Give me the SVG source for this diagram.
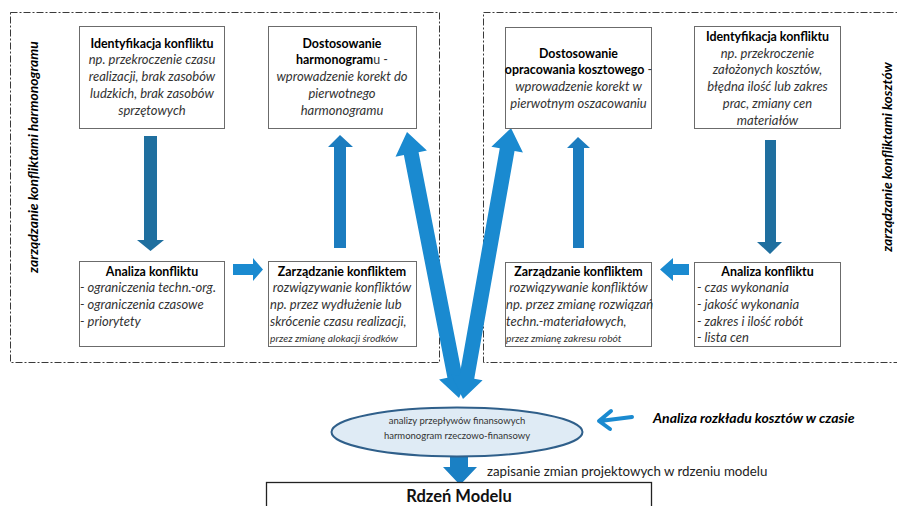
<svg xmlns="http://www.w3.org/2000/svg" width="897" height="506" viewBox="0 0 897 506">
<style>
text{font-family:Lato,"Liberation Sans",sans-serif;fill:#000}
.b{font-weight:bold;font-size:12.4px}
.i{font-style:italic;font-size:13px;fill:#333}
.r{font-size:12.4px;fill:#333}
.s{font-style:italic;font-size:10.3px;fill:#333}
.c{text-anchor:middle}
.box{fill:#fff;stroke:#6b6b6b;stroke-width:1}
.frame{fill:none;stroke:#3a3a3a;stroke-width:1;stroke-dasharray:7 2 2 2}
.lbl{font-weight:bold;font-style:italic;font-size:13.9px;text-anchor:middle}
.dn{fill:#1f6f9f}
.up{fill:#1b7cbf}
.hz{fill:#1a8ad0}
</style>
<g id="frames">
<rect class="frame" x="10.5" y="12.5" width="429" height="350"/>
<rect class="frame" x="483.5" y="12.5" width="430" height="350"/>
<text class="lbl" transform="translate(38,157) rotate(-90)">zarządzanie konfliktami harmonogramu</text>
<text class="lbl" transform="translate(892,157) rotate(-90)">zarządzanie konfliktami kosztów</text>
</g>
<g id="connectors">
<path class="dn" d="M144,136H157V240H164L150.5,251L137,240H144Z"/>
<path class="dn" d="M765,140H776V242H782L770,254L757,242H765Z"/>
<path class="up" d="M334,248V147H328L340,135L353,147H346V248Z"/>
<path class="up" d="M573,248V148H567L578,137L590,148H584V248Z"/>
<path class="hz" d="M233,264H253V258L263,269.5L253,281V275H233Z"/>
<path class="hz" d="M689,264H673V258L660,269.5L673,281V275H689Z"/>
<polygon class="hz" points="407,132 426.92,150.52 418.58,152.15 462.14,374.97 470.48,373.34 459,398 439.08,379.48 447.42,377.85 403.86,155.03 395.52,156.66"/>
<polygon class="hz" points="511,128 522.92,152.45 514.55,150.97 474.23,378.65 482.6,380.13 463,399 451.08,374.55 459.45,376.03 499.77,148.35 491.4,146.87"/>
<path fill="#1a80c4" d="M450,456H468V467H477L460,485L443,467H450Z"/>
<path d="M632,417L600,421M611,411L599,421L610,429" fill="none" stroke="#1a8ad0" stroke-width="4" stroke-linecap="round" stroke-linejoin="round"/>
</g>
<g id="ident-harm">
<rect class="box" x="79.5" y="26.5" width="145" height="102"/>
<text class="b c" x="152" y="47.5">Identyfikacja konfliktu</text>
<text class="i c" x="152" y="64.3">np. przekroczenie czasu</text>
<text class="i c" x="152" y="81.1">realizacji, brak zasobów</text>
<text class="i c" x="152" y="97.9">ludzkich, brak zasobów</text>
<text class="i c" x="152" y="114.7">sprzętowych</text>
</g>
<g id="dost-harm">
<rect class="box" x="268.5" y="26.5" width="148" height="102"/>
<text class="b c" x="342" y="47.5">Dostosowanie</text>
<text class="c" x="342" y="64.3"><tspan class="b">harmonogram</tspan><tspan class="r">u -</tspan></text>
<text class="i c" x="342" y="81.1">wprowadzenie korekt do</text>
<text class="i c" x="342" y="97.9">pierwotnego</text>
<text class="i c" x="342" y="114.7">harmonogramu</text>
</g>
<g id="dost-koszt">
<rect class="box" x="505.5" y="27.5" width="146" height="101"/>
<text class="c" x="578.5" y="57.5"><tspan class="b">Dostosowanie</tspan></text>
<text class="c" x="578.5" y="74.3"><tspan class="b">opracowania kosztowego</tspan><tspan class="r"> -</tspan></text>
<text class="i c" x="578.5" y="91.1">wprowadzenie korekt w</text>
<text class="i c" x="578.5" y="107.9">pierwotnym oszacowaniu</text>
</g>
<g id="ident-koszt">
<rect class="box" x="694.5" y="26.5" width="146" height="102"/>
<text class="b c" x="767.5" y="40.8">Identyfikacja konfliktu</text>
<text class="i c" x="767.5" y="57.5">np. przekroczenie</text>
<text class="i c" x="767.5" y="74.3">założonych kosztów,</text>
<text class="i c" x="767.5" y="91.1">błędna ilość lub zakres</text>
<text class="i c" x="767.5" y="107.9">prac, zmiany cen</text>
<text class="i c" x="767.5" y="124.7">materiałów</text>
</g>
<g id="analiza-harm">
<rect class="box" x="79.5" y="261.5" width="145" height="85"/>
<text class="b c" x="152" y="275.5">Analiza konfliktu</text>
<text class="i" x="80" y="292.2">- ograniczenia techn.-org.</text>
<text class="i" x="80" y="309">- ograniczenia czasowe</text>
<text class="i" x="80" y="325.7">- priorytety</text>
</g>
<g id="zarz-harm">
<rect class="box" x="268.5" y="261.5" width="148" height="85"/>
<text class="b c" x="342" y="275.5">Zarządzanie konfliktem</text>
<text class="i c" x="342" y="292.2">rozwiązywanie konfliktów</text>
<text class="i" x="270" y="309">np. przez wydłużenie lub</text>
<text class="i" x="270" y="325.7">skrócenie czasu realizacji,</text>
<text class="s" x="270" y="342">przez zmianę alokacji środków</text>
</g>
<g id="zarz-koszt">
<rect class="box" x="505.5" y="262.5" width="146" height="84"/>
<text class="b c" x="578.5" y="275.5">Zarządzanie konfliktem</text>
<text class="i c" x="578.5" y="292.2">rozwiązywanie konfliktów</text>
<text class="i" x="506" y="309">np. przez zmianę rozwiązań</text>
<text class="i" x="506" y="325.7">techn.-materiałowych,</text>
<text class="s" x="506" y="342">przez zmianę zakresu robót</text>
</g>
<g id="analiza-koszt">
<rect class="box" x="694.5" y="262.5" width="146" height="84"/>
<text class="b c" x="767.5" y="275.5">Analiza konfliktu</text>
<text class="i" x="697" y="292.2">- czas wykonania</text>
<text class="i" x="697" y="309">- jakość wykonania</text>
<text class="i" x="697" y="325.7">- zakres i ilość robót</text>
<text class="i" x="697" y="342">- lista cen</text>
</g>
<g id="analizy">
<ellipse cx="457" cy="432" rx="125.5" ry="24.5" fill="#dfebf5" stroke="#2f5f8a" stroke-width="2"/>
<text class="c" x="457" y="423.5" style="font-size:9.5px;fill:#333">analizy przepływów finansowych</text>
<text class="c" x="457" y="438.5" style="font-size:9.5px;fill:#333">harmonogram rzeczowo-finansowy</text>
</g>
<g id="rozklad">
<text x="653" y="423" style="font-weight:bold;font-style:italic;font-size:14px">Analiza rozkładu kosztów w czasie</text>
</g>
<g id="zapis">
<text x="487" y="476" style="font-size:13.3px;fill:#222">zapisanie zmian projektowych w rdzeniu modelu</text>
</g>
<g id="rdzen">
<rect x="266.5" y="482.5" width="385" height="40" fill="#fff" stroke="#222" stroke-width="1.3"/>
<text class="c" x="459" y="502" style="font-weight:bold;font-size:16.5px;fill:#111">Rdzeń Modelu</text>
</g>
</svg>
